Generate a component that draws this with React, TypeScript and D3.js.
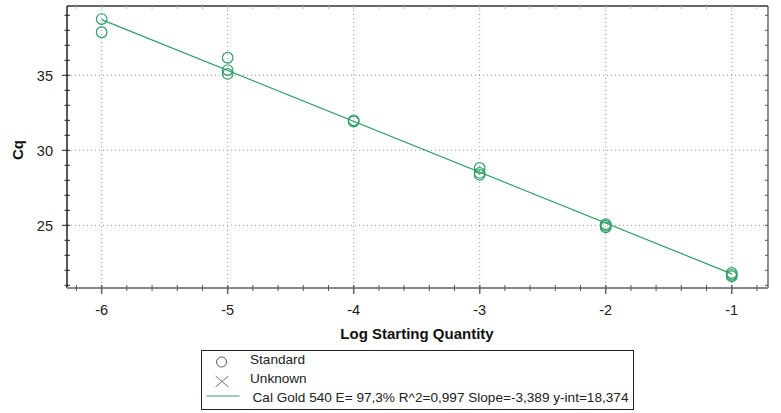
import React from "react";
import * as d3 from "d3";

const logQty: number[] = [-6, -6, -5, -5, -5, -4, -4, -3, -3, -3, -2, -2, -2, -1, -1, -1];
const cqValues: number[] = [38.75, 37.87, 36.17, 35.35, 35.09, 32.0, 31.92, 28.82, 28.49, 28.36, 25.08, 24.97, 24.86, 21.82, 21.7, 21.6];
const xMajorTicks: number[] = [-6, -5, -4, -3, -2, -1];
const yMajorTicks: number[] = [25, 30, 35];
const slope = -3.389;
const intercept = 18.374;
const legendItems: string[] = ["Standard", "Unknown", "Cal Gold 540 E= 97,3% R^2=0,997 Slope=-3,389 y-int=18,374"];

const W = 781, H = 413;
const L = 67, R = 768, T = 6, B = 288;

export default function App() {
  const x = d3.scaleLinear().domain([-6.275, -0.712]).range([L, R]);
  const y = d3.scaleLinear().domain([20.82, 39.62]).range([B, T]);
  const xMinor = d3.range(-6.2, -0.75, 0.2).map((v) => +v.toFixed(1));
  const yMinor = d3.range(21, 40, 1);
  const lineGen = d3.line<number>().x((d) => x(d)).y((d) => y(slope * d + intercept));
  const green = "#2f9e66";
  const font = "Arial, 'Liberation Sans', sans-serif";
  return (
    <svg width={W} height={H} style={{ position: "absolute", left: 0, top: 0, background: "#fff" }} fontFamily={font}>
      {/* grid */}
      {xMajorTicks.map((t) => (
        <line key={"gx" + t} x1={x(t)} x2={x(t)} y1={T} y2={B} stroke="#999" strokeWidth={1} strokeDasharray="1,3" />
      ))}
      {yMajorTicks.map((t) => (
        <line key={"gy" + t} x1={L} x2={R} y1={y(t)} y2={y(t)} stroke="#999" strokeWidth={1} strokeDasharray="1,3" />
      ))}
      {/* top & right frame */}
      <line x1={L} x2={R} y1={T} y2={T} stroke="#333" strokeWidth={1.5} />
      <line x1={R} x2={R} y1={T} y2={B} stroke="#444" strokeWidth={1.2} />
      {xMinor.map((t) => (
        <line key={"tt" + t} x1={x(t)} x2={x(t)} y1={T} y2={T + 3} stroke="#bbb" strokeWidth={1} />
      ))}
      {yMinor.map((t) => (
        <line key={"rt" + t} x1={R - 3} x2={R} y1={y(t)} y2={y(t)} stroke="#555" strokeWidth={1} />
      ))}
      {/* left axis */}
      <line x1={L} x2={L} y1={T} y2={B} stroke="#222" strokeWidth={1.5} />
      {yMinor.map((t) => (
        <line key={"ly" + t} x1={yMajorTicks.includes(t) ? L - 5 : L - 2.5} x2={L + 3} y1={y(t)} y2={y(t)} stroke="#222" strokeWidth={1} />
      ))}
      {yMajorTicks.map((t) => (
        <text key={"lyt" + t} x={53} y={y(t)} dy="0.36em" textAnchor="end" fontSize={14.5} fill="#222">{t}</text>
      ))}
      {/* bottom axis */}
      <line x1={L} x2={R} y1={B} y2={B} stroke="#888" strokeWidth={2} />
      {xMinor.map((t) => (
        <line key={"bx" + t} x1={x(t)} x2={x(t)} y1={B - 3} y2={B + 3} stroke="#555" strokeWidth={1} />
      ))}
      {xMajorTicks.map((t) => (
        <line key={"bxm" + t} x1={x(t)} x2={x(t)} y1={B - 3} y2={B + 6} stroke="#666" strokeWidth={1.5} />
      ))}
      {xMajorTicks.map((t) => (
        <text key={"bxt" + t} x={x(t)} y={315} textAnchor="middle" fontSize={14.5} fill="#222">{t}</text>
      ))}
      {/* axis titles */}
      <text x={417} y={339} textAnchor="middle" fontSize={15} fontWeight="bold" fill="#111">Log Starting Quantity</text>
      <text transform={`translate(23,150) rotate(-90)`} textAnchor="middle" fontSize={15} fontWeight="bold" fill="#111">Cq</text>
      {/* regression line */}
      <path d={lineGen([-6, -1]) || ""} fill="none" stroke={green} strokeWidth={1.2} />
      {/* points */}
      {logQty.map((q, i) => (
        <circle key={"p" + i} cx={x(q)} cy={y(cqValues[i])} r={5.3} fill="none" stroke={green} strokeWidth={1.2} />
      ))}
      {/* legend */}
      <rect x={201.5} y={350.5} width={432} height={59} fill="#fff" stroke="#222" strokeWidth={1} />
      <circle cx={221.5} cy={362} r={5} fill="none" stroke="#555" strokeWidth={1} />
      <text x={250} y={364} fontSize={13.6} fill="#222">{legendItems[0]}</text>
      <path d="M215.5,376 L228.5,387 M228.5,376 L215.5,387" stroke="#777" strokeWidth={1} />
      <text x={250} y={382.5} fontSize={13.6} fill="#222">{legendItems[1]}</text>
      <line x1={206.5} x2={239.5} y1={396} y2={396} stroke={green} strokeWidth={1} />
      <text x={252.5} y={402} fontSize={13.6} fill="#222">{legendItems[2]}</text>
    </svg>
  );
}
